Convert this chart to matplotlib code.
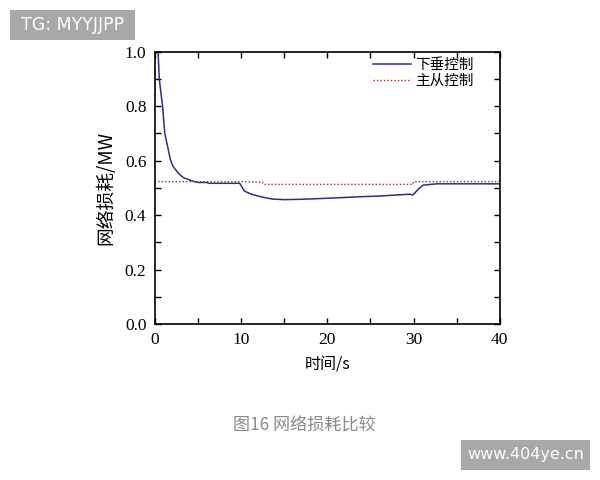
import matplotlib
matplotlib.use("Agg")
import matplotlib.pyplot as plt
from matplotlib.ticker import MultipleLocator
from matplotlib.patches import Rectangle

plt.rcParams['font.family'] = ['Noto Sans CJK SC', 'DejaVu Sans']

# Data
t_droop = [0.15, 0.38, 0.52, 0.9, 1.16, 1.5, 1.8, 2.1, 2.7, 3.3, 4.3, 5.0, 6.0, 6.3, 9.85,
           10.4, 11.2, 12.0, 12.95, 13.7, 15.0, 16.8, 20.0, 24.1, 26.0, 28.0, 29.6, 29.9,
           30.1, 30.6, 31.1, 32.0, 32.7, 35.0, 40.0]
v_droop = [1.05, 1.0, 0.9, 0.8, 0.7, 0.65, 0.605, 0.58, 0.555, 0.538, 0.526, 0.52, 0.52, 0.517, 0.517,
           0.488, 0.477, 0.47, 0.463, 0.459, 0.457, 0.458, 0.462, 0.468, 0.47, 0.474, 0.477, 0.474,
           0.48, 0.497, 0.51, 0.513, 0.515, 0.515, 0.515]
t_ms = [0.0, 10.0, 12.5, 12.6, 29.9, 30.0, 40.0]
v_ms = [0.523, 0.523, 0.521, 0.513, 0.513, 0.523, 0.523]
labels = ['下垂控制', '主从控制']
x_ticks = [0, 10, 20, 30, 40]
y_ticks = [0.0, 0.2, 0.4, 0.6, 0.8, 1.0]

fig = plt.figure(figsize=(6, 4.8), dpi=100)
ax = fig.add_axes([0.258, 0.325, 0.575, 0.567])
ax.plot(t_droop, v_droop, color='#2e2e82', lw=1.1, label=labels[0])
ax.plot(t_ms, v_ms, color='#9a3030', lw=1.0, ls=(0, (1, 1.5)), label=labels[1])
ax.set_xlim(0, 40)
ax.set_ylim(0, 1.0)
ax.set_xticks(x_ticks)
ax.set_yticks(y_ticks)
ax.set_xticklabels([str(v) for v in x_ticks], family='Liberation Serif', fontsize=12.5)
ax.set_yticklabels([f'{v:.1f}' for v in y_ticks], family='Liberation Serif', fontsize=12.5)
ax.xaxis.set_minor_locator(MultipleLocator(5))
ax.yaxis.set_minor_locator(MultipleLocator(0.1))
ax.tick_params(which='both', direction='in', top=True, right=True, length=4.5, width=1, pad=6)
for s in ax.spines.values():
    s.set_linewidth(1.2)
ax.set_xlabel('时间/s', fontsize=11.5, labelpad=6)
ax.set_ylabel('网络损耗/MW', fontsize=13.5, labelpad=6)
leg = ax.legend(loc='upper right', bbox_to_anchor=(0.945, 1.005), frameon=False, fontsize=10.5,
                handlelength=2.6, handletextpad=0.3, borderaxespad=0.1, labelspacing=0.15)

# caption and watermarks
fig.text(0.508, 0.113, '图16 网络损耗比较', ha='center', va='center', fontsize=12.3, color='#8a8a8a')
fig.patches.append(Rectangle((10 / 600, 1 - 40 / 480), 125 / 600, 30 / 480,
                             transform=fig.transFigure, fc='#a8a8a8', ec='none'))
fig.text(72.5 / 600, 1 - 25 / 480, 'TG: MYYJJPP', ha='center', va='center', fontsize=12.5,
         color='white', family='DejaVu Sans')
fig.patches.append(Rectangle((461 / 600, 1 - 470 / 480), 129 / 600, 30 / 480,
                             transform=fig.transFigure, fc='#a8a8a8', ec='none'))
fig.text(525.5 / 600, 1 - 455 / 480, 'www.404ye.cn', ha='center', va='center', fontsize=11.5,
         color='white', family='DejaVu Sans')

fig.savefig('out.png', dpi=100)
